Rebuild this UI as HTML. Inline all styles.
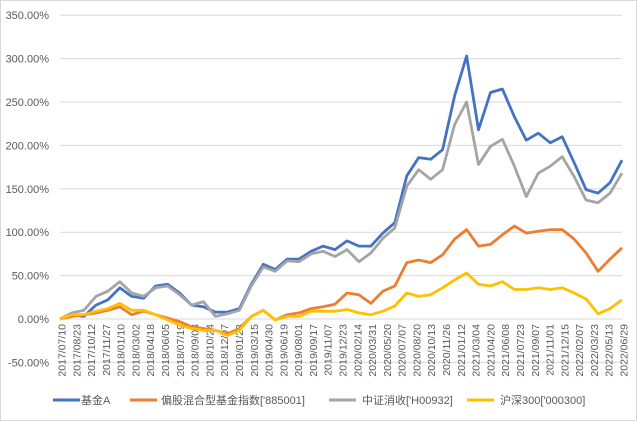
<!DOCTYPE html>
<html><head><meta charset="utf-8"><style>
html,body{margin:0;padding:0;background:#fff;}
svg{display:block;font-family:"Liberation Sans","Noto Sans CJK SC",sans-serif;}
</style></head><body>
<svg id="chart" width="637" height="421" viewBox="0 0 637 421" xmlns="http://www.w3.org/2000/svg">
<rect x="0.5" y="0.5" width="636" height="420" fill="#fff" stroke="#d9d9d9"/>
<g id="grid"></g>
<g id="yaxis"></g>
<g id="xaxis"></g>
<g id="series"></g>
<g id="legend"></g>
</svg>
<script>
const yTicks = [-50, 0, 50, 100, 150, 200, 250, 300, 350];
const categories = ["2017/07/10","2017/08/23","2017/10/12","2017/11/27","2018/01/10","2018/03/02","2018/04/18","2018/06/05","2018/07/19","2018/09/03","2018/10/24","2018/12/07","2019/01/23","2019/03/15","2019/04/30","2019/06/19","2019/08/01","2019/09/17","2019/11/07","2019/12/23","2020/02/14","2020/03/31","2020/05/20","2020/07/07","2020/08/20","2020/10/13","2020/11/26","2021/01/12","2021/03/04","2021/04/20","2021/06/08","2021/07/23","2021/09/07","2021/11/01","2021/12/15","2022/02/07","2022/03/23","2022/05/13","2022/06/29"];
const seriesNames = ["基金A","偏股混合型基金指数['885001]","中证消收['H00932]","沪深300['000300]"];
const fundA = [0,5,3,16,22,36,26,24,38,40,30,16,14,8,8,12,40,63,57,69,69,78,84,80,90,84,84,99,111,165,186,184,195,257,303,218,261,265,233,206,214,203,210,180,149,145,157,183];
const index885001 = [0,3,5,7,10,14,5,9,5,1,-3,-9,-11,-13,-17,-11,3,10,-1,5,7,12,14,17,30,28,18,32,38,65,68,65,74,92,103,84,86,97,107,99,101,103,103,92,76,55,69,82];
const consumer = [0,7,10,26,32,43,30,26,36,38,28,16,20,3,6,10,38,60,55,67,66,75,78,72,80,66,76,93,105,153,172,161,172,224,250,178,199,207,176,141,168,176,187,164,137,134,145,168];
const hs300 = [0,5,5,9,12,18,10,10,5,-1,-7,-11,-13,-13,-19,-13,3,10,-1,3,3,9,9,9,11,7,5,9,15,30,26,28,36,45,53,40,38,43,34,34,36,34,36,30,23,6,12,22];

const NS="http://www.w3.org/2000/svg";
const X0=60, X1=622;
function yScale(v){ return 319 - v*0.868; }
function xIdx(i,n){ return X0 + (X1-X0)*i/(n-1); }
function mk(tag, attrs, parent){ const e=document.createElementNS(NS,tag); for(const k in attrs) e.setAttribute(k,attrs[k]); parent.appendChild(e); return e; }

const grid=document.getElementById('grid'), yaxis=document.getElementById('yaxis'), xaxis=document.getElementById('xaxis');
yTicks.forEach(t=>{
  const y=yScale(t);
  const l=mk('line',{x1:X0,x2:X1,y1:y,y2:y,stroke:'#d9d9d9','stroke-width':1},grid);
  
  
  const tx=mk('text',{x:49,y:y+4,'text-anchor':'end','font-size':11,fill:'#595959'},yaxis);
  tx.textContent=t.toFixed(2)+'%';
  
  
});
categories.forEach((c,i)=>{
  const x=xIdx(i,categories.length)+1.5;
  const tx=mk('text',{x:0,y:0,'text-anchor':'end','font-size':10.5,fill:'#595959',transform:`translate(${x+4},${324}) rotate(-90)`},xaxis);
  tx.textContent=c;
  
  
});
const ser=document.getElementById('series');
const all=[[fundA,'#4472C4','fund-a-line'],[index885001,'#ED7D31','index-885001-line'],[consumer,'#A5A5A5','consumer-index-line'],[hs300,'#FFC000','hs300-line']];
all.forEach(([d,col,name])=>{
  const pts=d.map((v,i)=>xIdx(i,d.length).toFixed(1)+','+yScale(v).toFixed(1)).join(' ');
  const p=mk('polyline',{points:pts,fill:'none',stroke:col,'stroke-width':2.8,'stroke-linejoin':'round'},ser);
  
  
});
const leg=document.getElementById('legend');
const lx=[[53,81],[130,161],[329,362],[467,500]];
seriesNames.forEach((n,i)=>{
  const g=mk('g',{},leg);
  
  
  mk('line',{x1:lx[i][0],x2:lx[i][0]+27,y1:400,y2:400,stroke:all[i][1],'stroke-width':3},g);
  const t=mk('text',{x:lx[i][1],y:404,'font-size':11,fill:'#595959'},g);
  t.textContent=n;
});
</script>
</body></html>
